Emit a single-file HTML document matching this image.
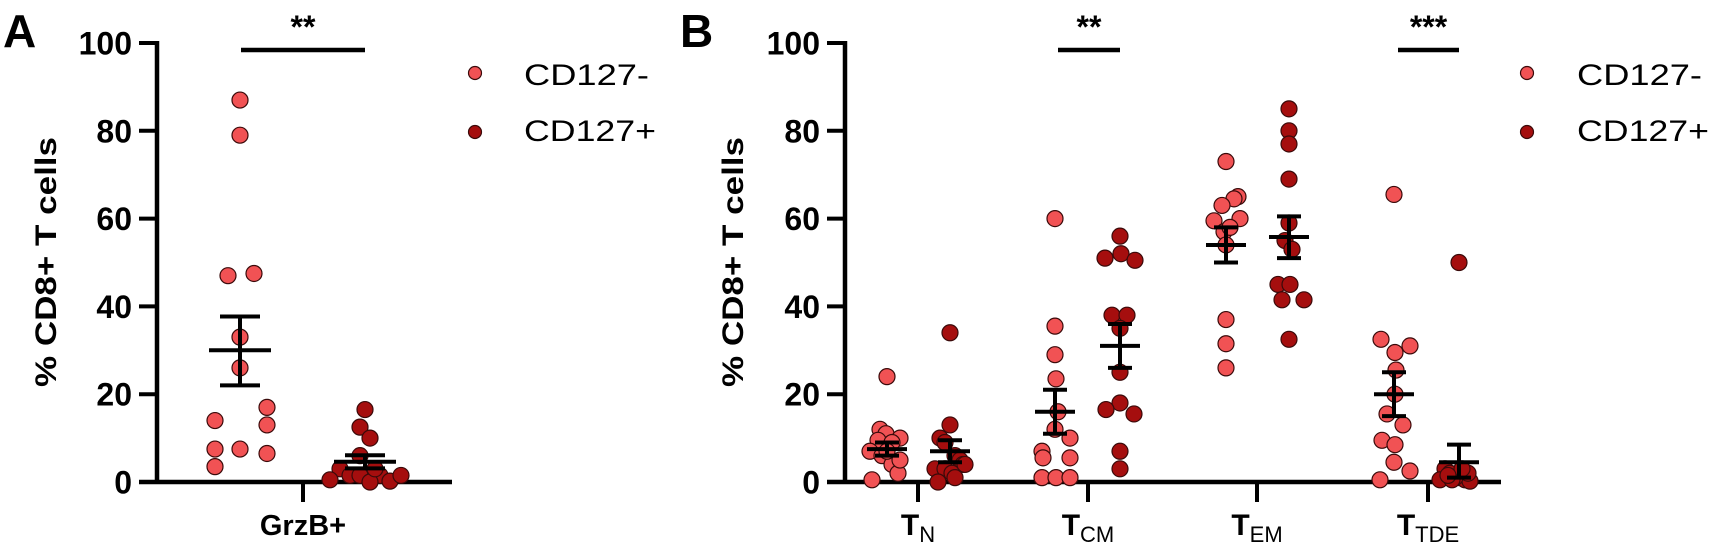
<!DOCTYPE html>
<html><head><meta charset="utf-8"><style>
html,body{margin:0;padding:0;background:#fff;}
svg{display:block;font-family:"Liberation Sans",Arial,sans-serif;}
</style></head><body>
<svg id="s" width="1713" height="548" xmlns="http://www.w3.org/2000/svg"></svg>
<script>
const s=document.getElementById('s');
let h='';
const Y=v=>482-v*4.39;
const L='#f15254',D='#a50e0e';
function axes(ax,xend,ticks,lblx,titlex){
  h+=`<line x1="${ax}" y1="${Y(100)-2}" x2="${ax}" y2="${Y(0)+2}" stroke="#000" stroke-width="4.5"/>`;
  h+=`<line x1="${ax-18}" y1="${Y(0)}" x2="${xend}" y2="${Y(0)}" stroke="#000" stroke-width="4.5"/>`;
  for(let v=0;v<=100;v+=20){
    h+=`<line x1="${ax-18}" y1="${Y(v)}" x2="${ax}" y2="${Y(v)}" stroke="#000" stroke-width="4"/>`;
    h+=`<text x="${lblx}" y="${Y(v)+11.5}" font-size="32" font-weight="bold" text-anchor="end">${v}</text>`;
  }
  ticks.forEach(t=>h+=`<line x1="${t}" y1="${Y(0)}" x2="${t}" y2="${Y(0)+20}" stroke="#000" stroke-width="4"/>`);
  h+=`<text transform="translate(${titlex},262) rotate(-90)" font-size="30" font-weight="bold" text-anchor="middle" textLength="250" lengthAdjust="spacingAndGlyphs">% CD8+ T cells</text>`;
}
function pts(arr,c){arr.forEach(p=>h+=`<circle cx="${p[0]}" cy="${Y(p[1])}" r="8" fill="${c}" stroke="#3a0a0a" stroke-width="1.2"/>`);}
function eb(x,m,lo,hi,w,cw){
  h+=`<line x1="${x}" y1="${Y(hi)}" x2="${x}" y2="${Y(lo)}" stroke="#000" stroke-width="4"/>`;
  h+=`<line x1="${x-w}" y1="${Y(m)}" x2="${x+w}" y2="${Y(m)}" stroke="#000" stroke-width="4"/>`;
  h+=`<line x1="${x-cw}" y1="${Y(hi)}" x2="${x+cw}" y2="${Y(hi)}" stroke="#000" stroke-width="4"/>`;
  h+=`<line x1="${x-cw}" y1="${Y(lo)}" x2="${x+cw}" y2="${Y(lo)}" stroke="#000" stroke-width="4"/>`;
}
function sig(x1,x2,t){
  h+=`<line x1="${x1}" y1="50" x2="${x2}" y2="50" stroke="#000" stroke-width="4.5"/>`;
  h+=`<text x="${(x1+x2)/2}" y="38" font-size="32" font-weight="bold" text-anchor="middle">${t}</text>`;
}
function legend(x,tx){
  h+=`<circle cx="${x}" cy="73" r="6.5" fill="${L}" stroke="#3a0a0a" stroke-width="1.2"/>`;
  h+=`<circle cx="${x}" cy="132" r="6.5" fill="${D}" stroke="#3a0a0a" stroke-width="1.2"/>`;
  h+=`<text x="${tx}" y="85" font-size="30" textLength="125" lengthAdjust="spacingAndGlyphs">CD127-</text>`;
  h+=`<text x="${tx}" y="141" font-size="30" textLength="132" lengthAdjust="spacingAndGlyphs">CD127+</text>`;
}
// Panel A
h+=`<text x="3" y="47" font-size="46" font-weight="bold">A</text>`;
axes(157,452,[303],132,56);
pts([[240,87],[240,79],[228,47],[254,47.5],[240,33],[240,26],[267,17],[215,14],[267,13],[215,7.5],[240,7.5],[267,6.5],[215,3.5]],L);
pts([[365,16.5],[360,12.5],[370,10],[360,6],[340,3],[350,1.5],[360,1.5],[380,1.5],[330,0.5],[370,0],[390,0.2],[401,1.5],[375,3]],D);
eb(240,30,22,37.7,31,20);
eb(365,4.6,3.1,6.1,31,20);
sig(241,365,'**');
h+=`<text x="303" y="535" font-size="29" font-weight="bold" text-anchor="middle">GrzB+</text>`;
legend(475,524);
// Panel B
h+=`<text x="680" y="47" font-size="46" font-weight="bold">B</text>`;
axes(845,1501,[918,1088,1257,1428],820,743);
pts([[887,24],[880,12],[886,11],[878,9.5],[900,10],[870,7],[882,6],[892,4],[898,2],[872,0.5],[900,5],[892,9],[887,7]],L);
pts([[950,34],[950,13],[940,10],[945,9],[955,6],[960,5],[963,4],[935,3],[945,3],[952,2],[938,0],[955,1],[965,4]],D);
pts([[1055,60],[1055,35.5],[1055,29],[1056,23.5],[1058,16],[1055,12],[1070,10],[1042,7],[1043,5.5],[1070,5.5],[1042,1],[1056,1],[1070,1]],L);
pts([[1120,56],[1121,52],[1105,51],[1135,50.5],[1112,38],[1127,38],[1120,35],[1120,25],[1120,18],[1106,16.5],[1134,15.5],[1120,7],[1120,3]],D);
pts([[1226,73],[1238,65],[1234,64.5],[1222,63],[1214,59.5],[1240,60],[1224,57],[1226,54],[1226,37],[1226,31.5],[1226,26],[1230,58]],L);
pts([[1289,85],[1289,80],[1289,77],[1289,69],[1289,59],[1285,55],[1292,53],[1278,45],[1290,45],[1282,41.5],[1304,41.5],[1289,32.5]],D);
pts([[1394,65.5],[1381,32.5],[1410,31],[1395,29.5],[1396,25.5],[1395,20],[1387,15.5],[1403,13],[1382,9.5],[1395,8.5],[1394,4.5],[1410,2.5],[1380,0.5]],L);
pts([[1459,50],[1445,3],[1450,2],[1460,1],[1440,0.5],[1465,0.5],[1470,0.2],[1455,1],[1468,2],[1452,0.5],[1462,3],[1448,1.5]],D);
eb(887,7.5,6,9,20,12); eb(950,7,4.5,9.5,20,12);
eb(1055,16,11,21,20,12); eb(1120,31,26,36,20,12);
eb(1226,54,50,58,20,12); eb(1289,55.8,51,60.5,20,12);
eb(1394,20,15,25,20,12); eb(1459,4.5,1,8.5,20,12);
sig(1058,1120,'**'); sig(1398,1459,'***');
function xl(x,sub){h+=`<text x="${x}" y="535" font-size="30" font-weight="bold" text-anchor="middle">T<tspan font-size="22" font-weight="normal" dy="7">${sub}</tspan></text>`;}
xl(918,'N');xl(1088,'CM');xl(1257,'EM');xl(1428,'TDE');
legend(1527,1577);
s.innerHTML=h;
</script>
</body></html>
